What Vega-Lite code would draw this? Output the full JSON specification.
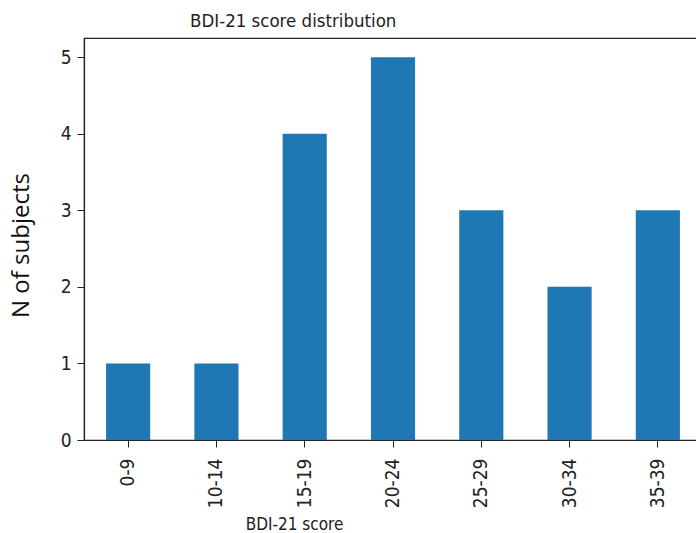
{
  "$schema": "https://vega.github.io/schema/vega-lite/v6.json",
  "autosize": {"type": "none"},
  "width": 618,
  "height": 402,
  "padding": {"left": 84, "top": 38, "right": 0, "bottom": 93},
  "background": "white",
  "config": {
    "font": "DejaVu Sans Condensed, DejaVu Sans",
    "view": {"stroke": "#222", "strokeWidth": 1.2}
  },
  "title": {
    "text": "BDI-21 score distribution",
    "anchor": "start",
    "frame": "group",
    "dx": 106,
    "dy": 18,
    "offset": 11,
    "baseline": "alphabetic",
    "fontSize": 18.5,
    "fontWeight": "normal",
    "color": "#222",
    "font": "DejaVu Sans Condensed, DejaVu Sans"
  },
  "data": {
    "values": [
      {"range": "0-9", "n": 1},
      {"range": "10-14", "n": 1},
      {"range": "15-19", "n": 4},
      {"range": "20-24", "n": 5},
      {"range": "25-29", "n": 3},
      {"range": "30-34", "n": 2},
      {"range": "35-39", "n": 3}
    ]
  },
  "mark": {"type": "bar", "color": "#1f77b4"},
  "encoding": {
    "x": {
      "field": "range",
      "type": "nominal",
      "sort": null,
      "scale": {"paddingInner": 0.5, "paddingOuter": 0.25},
      "axis": {
        "title": "BDI-21 score",
        "titleFontSize": 17,
        "titleFontWeight": "normal",
        "titleColor": "#222",
        "titleX": 210,
        "titleY": 89,
        "titleAlign": "center",
        "titleBaseline": "alphabetic",
        "labelAngle": -90,
        "labelFontSize": 19,
        "labelColor": "#222",
        "labelPadding": 11,
        "tickSize": 7,
        "tickColor": "#222",
        "domainColor": "#222",
        "domainWidth": 1.2
      }
    },
    "y": {
      "field": "n",
      "type": "quantitative",
      "scale": {"domain": [0, 5.25], "nice": false},
      "axis": {
        "title": "N of subjects",
        "titleFont": "Open Sans",
        "titleFontSize": 24,
        "titleFontWeight": "normal",
        "titleColor": "#111",
        "titleAngle": -90,
        "titleX": -56,
        "titleY": 207,
        "titleAlign": "center",
        "titleBaseline": "alphabetic",
        "values": [0, 1, 2, 3, 4, 5],
        "grid": false,
        "labelFontSize": 19,
        "labelColor": "#222",
        "labelPadding": 6,
        "tickSize": 7,
        "tickColor": "#222",
        "domainColor": "#222",
        "domainWidth": 1.2
      }
    }
  }
}
